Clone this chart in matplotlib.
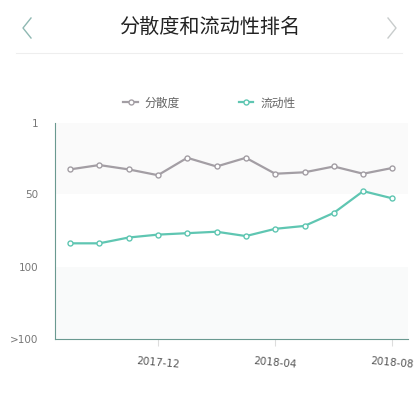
import matplotlib
matplotlib.use('Agg')
import matplotlib.pyplot as plt

plt.rcParams['font.family'] = ['Noto Sans CJK SC', 'DejaVu Sans']

# 月份（2017-09 ~ 2018-08）
months = ['2017-09', '2017-10', '2017-11', '2017-12', '2018-01', '2018-02',
          '2018-03', '2018-04', '2018-05', '2018-06', '2018-07', '2018-08']
dispersion = [33, 30, 33, 37, 25, 31, 25, 36, 35, 31, 36, 32]
liquidity = [84, 84, 80, 78, 77, 76, 79, 74, 72, 63, 48, 53]
tick_months = ['2017-12', '2018-04', '2018-08']
y_ticks = [1, 50, 100, 150]
y_labels = ['1', '50', '100', '>100']

gray = '#a39ea4'
teal = '#5fc6b2'
axis_col = '#6a9990'
label_col = '#777777'

fig = plt.figure(figsize=(4.19, 4.11), dpi=100)
fig.patch.set_facecolor('white')


def fx(px):
    return px / 419


def fy(py):
    return 1 - py / 411


# 标题栏
fig.text(0.5, fy(27), '分散度和流动性排名', ha='center', va='center',
         fontsize=14.5, color='#222222')
# 左右箭头
fig.add_artist(plt.Line2D([fx(31), fx(23), fx(31)], [fy(18), fy(28), fy(38)],
                          color='#8fb8b2', lw=1.0))
fig.add_artist(plt.Line2D([fx(388), fx(396), fx(388)], [fy(18), fy(28), fy(38)],
                          color='#c8cccc', lw=1.0))
fig.add_artist(plt.Line2D([fx(16), fx(402)], [fy(53), fy(53)],
                          color='#eeeeee', lw=0.8))

ax = fig.add_axes([fx(55), fy(339), 353 / 419, 216 / 411])
x = list(range(len(months)))

# 背景条带
ax.axhspan(1, 50, color='#fafafa', lw=0, zorder=0)
ax.axhspan(100, 150, color='#f9fafa', lw=0, zorder=0)

ax.plot(x, dispersion, color=gray, lw=1.6, marker='o', ms=3.6,
        mfc='white', mec=gray, mew=1.0, label='分散度', zorder=3)
ax.plot(x, liquidity, color=teal, lw=1.6, marker='o', ms=3.6,
        mfc='white', mec=teal, mew=1.0, label='流动性', zorder=3)

ax.set_ylim(150, 1)
ax.set_xlim(-0.51, 11.53)
ax.set_yticks(y_ticks)
ax.set_yticklabels(y_labels)
ax.set_xticks([months.index(m) for m in tick_months])
ax.set_xticklabels(tick_months, rotation=-5)

ax.tick_params(axis='y', length=0, pad=12, labelsize=7.5, labelcolor=label_col)
ax.tick_params(axis='x', length=5, width=0.8, color='#dddddd', pad=7,
               labelsize=7.5, labelcolor='#555555')
for lbl in ax.get_yticklabels() + ax.get_xticklabels():
    lbl.set_family('DejaVu Sans')

for side in ['top', 'right']:
    ax.spines[side].set_visible(False)
ax.spines['left'].set_color(axis_col)
ax.spines['bottom'].set_color(axis_col)
ax.set_facecolor('white')

fig.legend(loc='center', bbox_to_anchor=(0.5, fy(103)), ncol=2,
           frameon=False, fontsize=8.5, columnspacing=5.0,
           handlelength=1.2, handletextpad=0.6, labelcolor='#666666')

fig.savefig('out.png', dpi=100, facecolor='white')
